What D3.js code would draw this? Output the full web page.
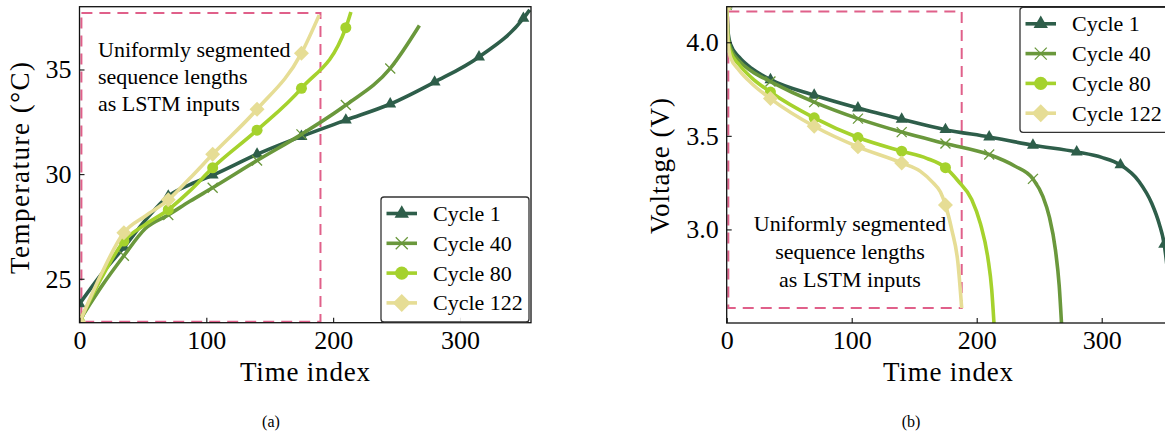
<!DOCTYPE html>
<html><head><meta charset="utf-8">
<script src="https://cdn.jsdelivr.net/npm/d3@7"></script>
<style>
body{margin:0;background:#fff}
svg{display:block}
svg text{font-family:"Liberation Serif","Times New Roman",serif;fill:#000}
</style>
</head><body>
<svg id="c" width="1165" height="435" font-family="Liberation Serif, serif"></svg>
<script>
// ---------------- DATA ----------------
const cycles = ["Cycle 1", "Cycle 40", "Cycle 80", "Cycle 122"];
const markerEvery = 35;
const xTicks = [0, 100, 200, 300];
const tempTicks = [25, 30, 35];
const voltTicks = [3.0, 3.5, 4.0];
const annotationLines = ["Uniformly segmented", "sequence lengths", "as LSTM inputs"];
const captions = ["(a)", "(b)"];
const xLabel = "Time index";
const tempLabel = "Temperature (°C)";
const voltLabel = "Voltage (V)";

// Temperature (panel a)
const tIdx1 = [0, 17, 35, 52, 70, 87, 105, 140, 175, 210, 245, 280, 315, 350, 355];
const tVal1 = [23.8, 25.2, 26.5, 27.8, 28.95, 29.5, 29.95, 30.95, 31.8, 32.58, 33.35, 34.4, 35.6, 37.44, 37.85];
const tIdx40 = [0, 17, 35, 52, 70, 87, 105, 140, 175, 210, 245, 268];
const tVal40 = [23.0, 24.6, 26.1, 27.4, 28.05, 28.7, 29.35, 30.65, 31.9, 33.3, 35.05, 37.1];
const tIdx80 = [0, 17, 35, 52, 70, 87, 105, 140, 175, 210, 214];
const tVal80 = [22.95, 25.0, 26.8, 27.6, 28.3, 29.2, 30.3, 32.1, 34.1, 37.0, 37.75];
const tIdx122 = [0, 17, 35, 52, 70, 87, 105, 140, 175, 189];
const tVal122 = [22.9, 25.2, 27.2, 28.0, 28.77, 29.8, 30.95, 33.1, 35.78, 37.6];

// Voltage (panel b)
const vIdx1 = [0, 1, 3, 10, 20, 35, 70, 105, 140, 175, 210, 245, 280, 300, 315, 330, 340, 346, 350, 353, 356];
const vVal1 = [4.2, 4.06, 3.99, 3.92, 3.86, 3.80, 3.717, 3.649, 3.589, 3.533, 3.494, 3.45, 3.414, 3.385, 3.345, 3.255, 3.14, 3.03, 2.92, 2.75, 2.45];
const vIdx40 = [0, 1, 3, 10, 20, 35, 70, 105, 140, 175, 210, 230, 245, 253, 258, 263, 266, 268];
const vVal40 = [4.2, 4.04, 3.97, 3.90, 3.845, 3.79, 3.68, 3.592, 3.52, 3.459, 3.40, 3.34, 3.27, 3.175, 3.07, 2.89, 2.7, 2.48];
const vIdx80 = [0, 1, 3, 10, 20, 35, 70, 105, 140, 160, 175, 185, 196, 203, 209, 212, 214];
const vVal80 = [4.2, 4.02, 3.95, 3.88, 3.81, 3.734, 3.596, 3.491, 3.418, 3.38, 3.33, 3.26, 3.16, 3.03, 2.845, 2.68, 2.48];
const vIdx122 = [0, 1, 3, 10, 20, 35, 70, 105, 140, 155, 165, 171, 175, 180, 185, 188];
const vVal122 = [4.2, 4.0, 3.92, 3.85, 3.78, 3.699, 3.551, 3.441, 3.355, 3.31, 3.25, 3.20, 3.13, 3.0, 2.82, 2.58];

// Segment windows (data coordinates)
const segTempIdx = [1.5, 190];
const segTempVal = [22.95, 37.7];
const segVoltIdx = [1.3, 188];
const segVoltVal = [2.58, 4.165];

// ---------------- STYLE ----------------
const colors = ["#2e5e4a", "#6a983c", "#a5d22d", "#e6dd95"];
const markers = ["triangle", "x", "circle", "diamond"];
const segColor = "#e0608a";
const FONT = '"Liberation Serif","Times New Roman",serif';

const svg = d3.select("#c");

function markerPath(g, type, color, s) {
  if (type === "triangle") {
    g.append("path").attr("d", d3.symbol(d3.symbolTriangle, 62 * s * s)()).attr("fill", color);
  } else if (type === "circle") {
    g.append("circle").attr("r", 5.5 * s).attr("fill", color);
  } else if (type === "diamond") {
    g.append("path").attr("d", d3.symbol(d3.symbolSquare, 112 * s * s)()).attr("transform", "rotate(45)").attr("fill", color);
  } else {
    const h = 5 * s;
    g.append("path").attr("d", `M${-h},${-h}L${h},${h}M${-h},${h}L${h},${-h}`).attr("stroke", color).attr("stroke-width", 1.3).attr("fill", "none");
  }
}

function txt(sel) { return sel.style("font-family", FONT).attr("fill", "#000"); }

function panel(cfg) {
  const x = d3.scaleLinear().domain([0, 356]).range(cfg.xr);
  const y = d3.scaleLinear().domain(cfg.yd).range(cfg.yr);
  const g = svg.append("g");
  const clipId = "clip" + cfg.id;
  svg.append("clipPath").attr("id", clipId).append("rect")
    .attr("x", cfg.xr[0]).attr("y", cfg.yr[1]).attr("width", cfg.xr[1] - cfg.xr[0]).attr("height", cfg.yr[0] - cfg.yr[1]);

  const plot = g.append("g").attr("clip-path", `url(#${clipId})`);

  plot.append("rect")
    .attr("x", x(cfg.segIdx[0])).attr("y", y(cfg.segVal[1]))
    .attr("width", x(cfg.segIdx[1]) - x(cfg.segIdx[0]))
    .attr("height", y(cfg.segVal[0]) - y(cfg.segVal[1]))
    .attr("fill", "none").attr("stroke", segColor).attr("stroke-width", 2)
    .attr("stroke-dasharray", "11,7");

  const line = d3.line().x(d => x(d[0])).y(d => y(d[1])).curve(d3.curveMonotoneX);
  cfg.series.forEach((s, i) => {
    const pts = s.idx.map((t, k) => [t, s.val[k]]);
    plot.append("path").datum(pts).attr("d", line)
      .attr("fill", "none").attr("stroke", colors[i]).attr("stroke-width", 3.6)
      .attr("stroke-linejoin", "round").attr("stroke-linecap", "butt");
    pts.filter(p => p[0] % markerEvery === 0).forEach(p => {
      const mg = plot.append("g").attr("transform", `translate(${x(p[0])},${y(p[1])})`);
      markerPath(mg, markers[i], colors[i], 1);
    });
  });

  const xa = g.append("g").attr("transform", `translate(0,${cfg.yr[0]})`)
    .call(d3.axisBottom(x).tickValues(xTicks).tickSize(-5).tickPadding(8).tickFormat(d3.format("d")));
  const ya = g.append("g").attr("transform", `translate(${cfg.xr[0]},0)`)
    .call(d3.axisLeft(y).tickValues(cfg.yTicks).tickSize(-5).tickPadding(8).tickFormat(cfg.fmt));
  [xa, ya].forEach(a => {
    a.attr("font-family", null);
    a.select(".domain").remove();
    a.selectAll("line").attr("stroke", "#111").attr("stroke-width", 1.1);
    txt(a.selectAll("text")).style("font-size", "26px");
  });

  g.append("rect").attr("x", cfg.xr[0]).attr("y", cfg.yr[1])
    .attr("width", cfg.xr[1] - cfg.xr[0]).attr("height", cfg.yr[0] - cfg.yr[1])
    .attr("fill", "none").attr("stroke", "#111").attr("stroke-width", 1.3);

  txt(g.append("text")).attr("x", cfg.xLabelX).attr("y", 381).attr("text-anchor", "middle")
    .style("font-size", "27px").attr("textLength", 130).attr("lengthAdjust", "spacing").text(xLabel);
  txt(g.append("text")).attr("transform", `translate(${cfg.yLabelX},${cfg.yLabelY}) rotate(-90)`)
    .attr("text-anchor", "middle").style("font-size", "27px")
    .attr("textLength", cfg.yLabelLen).attr("lengthAdjust", "spacing").text(cfg.yLabel);

  const ann = g.append("g");
  annotationLines.forEach((t, k) => {
    txt(ann.append("text")).attr("x", cfg.annX).attr("y", cfg.annY + k * cfg.annDy)
      .attr("text-anchor", cfg.annAnchor).style("font-size", "22px").text(t);
  });

  const L = cfg.legend;
  const lg = g.append("g");
  lg.append("rect").attr("x", L.x).attr("y", L.y).attr("width", 148).attr("height", 125)
    .attr("rx", 3).attr("fill", "#fff").attr("fill-opacity", 0.9).attr("stroke", "#333").attr("stroke-width", 1.3);
  cycles.forEach((c, i) => {
    const cy = L.y + 16.5 + i * 29.8;
    lg.append("line").attr("x1", L.x + 5.5).attr("x2", L.x + 36).attr("y1", cy).attr("y2", cy)
      .attr("stroke", colors[i]).attr("stroke-width", 3.6);
    const mg = lg.append("g").attr("transform", `translate(${L.x + 20.75},${cy})`);
    markerPath(mg, markers[i], colors[i], 1.2);
    txt(lg.append("text")).attr("x", L.x + 52).attr("y", cy + 7.5).style("font-size", "22px").text(c);
  });

  txt(svg.append("text")).attr("x", cfg.capX).attr("y", 427).attr("text-anchor", "middle")
    .style("font-size", "16px").text(cfg.caption);
}

panel({
  id: "a", xr: [79.5, 531], yr: [322.7, 6.7], yd: [22.9, 38.0], yTicks: tempTicks, fmt: d3.format("d"),
  series: [
    {idx: tIdx1, val: tVal1}, {idx: tIdx40, val: tVal40},
    {idx: tIdx80, val: tVal80}, {idx: tIdx122, val: tVal122}
  ],
  segIdx: segTempIdx, segVal: segTempVal,
  xLabelX: 305, yLabelX: 29, yLabelY: 168, yLabel: tempLabel, yLabelLen: 212,
  annX: 98, annY: 57.3, annDy: 26.6, annAnchor: "start",
  legend: {x: 381, y: 197}, capX: 271, caption: captions[0]
});

panel({
  id: "b", xr: [726.7, 1171.7], yr: [323, 6.7], yd: [2.5, 4.19], yTicks: voltTicks, fmt: d3.format(".1f"),
  series: [
    {idx: vIdx1, val: vVal1}, {idx: vIdx40, val: vVal40},
    {idx: vIdx80, val: vVal80}, {idx: vIdx122, val: vVal122}
  ],
  segIdx: segVoltIdx, segVal: segVoltVal,
  xLabelX: 948, yLabelX: 669, yLabelY: 166, yLabel: voltLabel, yLabelLen: 136,
  annX: 850, annY: 230.5, annDy: 28, annAnchor: "middle",
  legend: {x: 1020, y: 7.3}, capX: 911, caption: captions[1]
});
</script>
</body></html>
